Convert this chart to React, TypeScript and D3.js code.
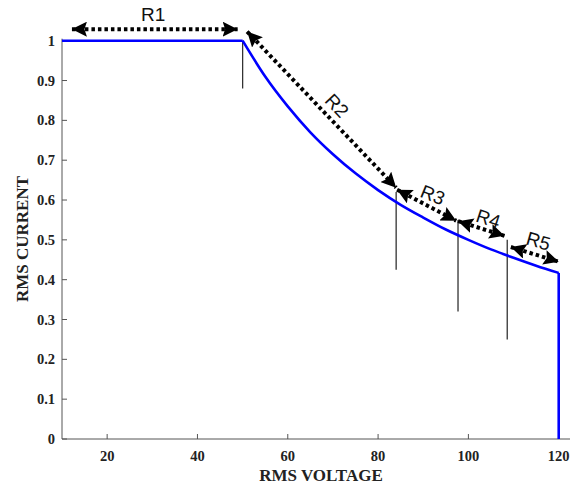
import React from "react";
import * as d3 from "d3";

const flatVoltage = [10, 50];
const flatCurrent = [1, 1];
const curveVoltage = [50, 55, 60, 65, 70, 75, 80, 85, 90, 95, 100, 105, 110, 115, 120];
const curveCurrent = [1, 0.91, 0.835, 0.77, 0.715, 0.667, 0.625, 0.588, 0.556, 0.526, 0.5, 0.476, 0.455, 0.435, 0.417];
const dropVoltage = [120, 120];
const dropCurrent = [0.417, 0];

const xTicks = [20, 40, 60, 80, 100, 120];
const yTicks = [0, 0.1, 0.2, 0.3, 0.4, 0.5, 0.6, 0.7, 0.8, 0.9, 1];

const markX = [50, 84, 97.7, 108.6];
const markTop = [1, 0.62, 0.55, 0.5];
const markBottom = [0.88, 0.425, 0.32, 0.25];

const regionNames = ["R1", "R2", "R3", "R4", "R5"];
const regionX1 = [12.2, 51.0, 84.2, 97.7, 109.4];
const regionY1 = [1.029, 1.023, 0.626, 0.547, 0.482];
const regionX2 = [48.9, 84.0, 97.3, 108.0, 120.0];
const regionY2 = [1.029, 0.631, 0.548, 0.51, 0.445];
const labelX = [30.2, 70.9, 92.1, 104.4, 115.5];
const labelY = [1.065, 0.837, 0.613, 0.553, 0.497];
const labelAngle = [0, 47, 22, 18, 16];

export default function App() {
  const W = 581, H = 486;
  const x = d3.scaleLinear().domain([10, 122.5]).range([62, 570]);
  const y = d3.scaleLinear().domain([0, 1]).range([439, 40.7]);
  const line = d3.line<[number, number]>().x(d => x(d[0])).y(d => y(d[1]));
  const curveLine = d3.line<[number, number]>().x(d => x(d[0])).y(d => y(d[1])).curve(d3.curveMonotoneX);
  const flat = flatVoltage.map((v, i) => [v, flatCurrent[i]] as [number, number]);
  const curve = curveVoltage.map((v, i) => [v, curveCurrent[i]] as [number, number]);
  const drop = dropVoltage.map((v, i) => [v, dropCurrent[i]] as [number, number]);
  const serif = "'Liberation Serif', 'Times New Roman', serif";
  const sans = "'Liberation Sans', Arial, sans-serif";
  const axisColor = "#555";

  return (
    <svg width={W} height={H} style={{ position: "absolute", left: 0, top: 0, background: "#fff" }}>
      <defs>
        <marker id="ah" viewBox="0 0 15 15" refX="15" refY="7.5" markerWidth="15" markerHeight="15"
          markerUnits="userSpaceOnUse" orient="auto-start-reverse">
          <path d="M0,0 L15,7.5 L0,15 L2.5,7.5 Z" fill="#000" />
        </marker>
      </defs>
      {/* axes */}
      <line x1={x(10)} x2={x(10)} y1={y(0)} y2={y(1) - 2} stroke={axisColor} strokeWidth={1} />
      <line x1={x(10)} x2={x(122.5)} y1={y(0)} y2={y(0)} stroke={axisColor} strokeWidth={1} />
      {yTicks.map(t => (
        <g key={"y" + t}>
          <line x1={x(10)} x2={x(10) + 5} y1={y(t)} y2={y(t)} stroke={axisColor} />
          <text x={x(10) - 7} y={y(t)} dy="0.35em" textAnchor="end" fontFamily={serif}
            fontWeight="bold" fontSize={14.5} fill="#222">{d3.format("~g")(t)}</text>
        </g>
      ))}
      {xTicks.map(t => (
        <g key={"x" + t}>
          <line x1={x(t)} x2={x(t)} y1={y(0)} y2={y(0) - 5} stroke={axisColor} />
          <text x={x(t)} y={461} textAnchor="middle" fontFamily={serif}
            fontWeight="bold" fontSize={14.5} fill="#222">{t}</text>
        </g>
      ))}
      <text x={321} y={481} textAnchor="middle" fontFamily={serif} fontWeight="bold" fontSize={17} fill="#222">RMS VOLTAGE</text>
      <text transform="translate(28,239) rotate(-90)" textAnchor="middle" fontFamily={serif} fontWeight="bold" fontSize={17} fill="#222">RMS CURRENT</text>

      {/* vertical markers */}
      {markX.map((v, i) => (
        <line key={"m" + i} x1={x(v)} x2={x(v)} y1={y(markTop[i])} y2={y(markBottom[i])} stroke="#333" strokeWidth={1.3} />
      ))}

      {/* curve */}
      <path d={line(flat) || ""} fill="none" stroke="#0000ff" strokeWidth={2.6} />
      <path d={curveLine(curve) || ""} fill="none" stroke="#0000ff" strokeWidth={2.6} />
      <path d={line(drop) || ""} fill="none" stroke="#0000ff" strokeWidth={2.6} />

      {/* region arrows */}
      {regionNames.map((n, i) => {
        const px1 = x(regionX1[i]), py1 = y(regionY1[i]);
        const px2 = x(regionX2[i]), py2 = y(regionY2[i]);
        return (
          <g key={n}>
            <line x1={px1} y1={py1} x2={px2} y2={py2} stroke="#000" strokeWidth={4}
              strokeDasharray="3.5 3" markerStart="url(#ah)" markerEnd="url(#ah)" />
            <text transform={`translate(${x(labelX[i])},${y(labelY[i])}) rotate(${labelAngle[i]})`}
              textAnchor="middle" dy="0.35em" fontFamily={sans} fontSize={19} fill="#111">{n}</text>
          </g>
        );
      })}
    </svg>
  );
}
